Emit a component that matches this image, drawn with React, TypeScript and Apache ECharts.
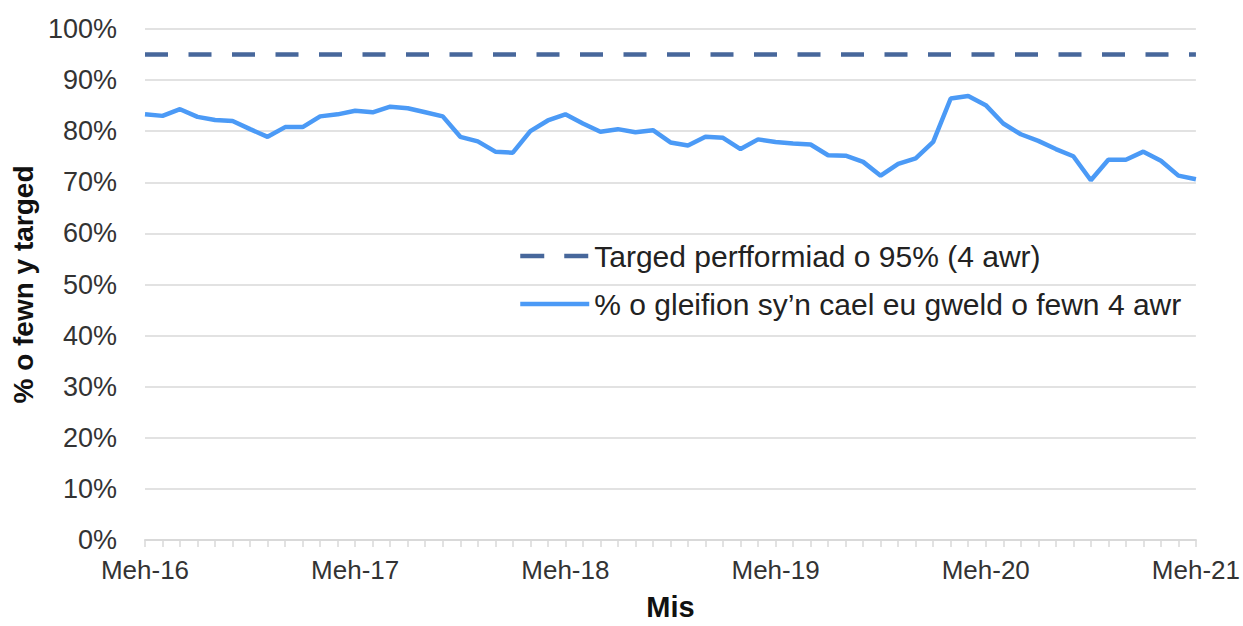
import React, { useEffect, useRef } from "react";
import * as echarts from "echarts";

const monthAbbr = ["Meh", "Gor", "Aws", "Med", "Hyd", "Tach", "Rhag", "Ion", "Chwef", "Maw", "Ebr", "Mai"];
const startYears = [16, 17, 18, 19, 20];
const categories: string[] = [];
startYears.forEach((y) => {
  monthAbbr.forEach((m, i) => {
    categories.push(`${m}-${i < 7 ? y : y + 1}`);
  });
});
categories.push("Meh-21");

const seenWithin4h = [
  83.3, 83.0, 84.3, 82.8, 82.2, 82.0, 80.4, 78.9, 80.8, 80.8, 82.9, 83.3,
  84.0, 83.7, 84.8, 84.5, 83.7, 82.9, 78.9, 78.0, 76.0, 75.8, 80.0, 82.1,
  83.3, 81.5, 79.9, 80.4, 79.8, 80.2, 77.8, 77.2, 78.9, 78.7, 76.5, 78.4,
  77.9, 77.6, 77.4, 75.3, 75.2, 74.0, 71.3, 73.6, 74.7, 77.9, 86.4, 86.9,
  85.1, 81.5, 79.4, 78.1, 76.5, 75.1, 70.4, 74.4, 74.4, 76.0, 74.2, 71.3,
  70.6,
];

const TARGET = 95;
const yTicks = [0, 10, 20, 30, 40, 50, 60, 70, 80, 90, 100];

const targetName = "Targed perfformiad o 95% (4 awr)";
const seriesName = "% o gleifion sy\u2019n cael eu gweld o fewn 4 awr";

const FONT = "Liberation Sans, Arial, sans-serif";
const DASH_COLOR = "#47679b";
const LINE_COLOR = "#4b9af6";

export default function App() {
  const ref = useRef<HTMLDivElement>(null);
  useEffect(() => {
    if (!ref.current) return;
    const chart = echarts.init(ref.current, null, { renderer: "svg" });
    chart.setOption({
      animation: false,
      textStyle: { fontFamily: FONT },
      grid: { left: 145, right: 46, top: 29, bottom: 81, containLabel: false },
      legend: {
        orient: "vertical",
        left: 513,
        top: 236,
        itemWidth: 69,
        itemHeight: 14,
        itemGap: 18,
        textStyle: { fontFamily: FONT, fontSize: 30, lineHeight: 30, color: "#222" },
        data: [
          {
            name: targetName,
            itemStyle: { opacity: 0 },
            lineStyle: { color: DASH_COLOR, width: 4.5, type: [24, 20] },
          },
          {
            name: seriesName,
            itemStyle: { opacity: 0 },
            lineStyle: { color: LINE_COLOR, width: 4.5, type: "solid" },
          },
        ],
      },
      xAxis: {
        type: "category",
        data: categories,
        boundaryGap: false,
        name: "Mis",
        nameLocation: "middle",
        nameGap: 52,
        nameTextStyle: { fontFamily: FONT, fontSize: 29, fontWeight: "bold", color: "#111" },
        axisLine: { lineStyle: { color: "#d9d9d9", width: 2 } },
        axisTick: { show: true, interval: 0, length: 7, lineStyle: { color: "#d9d9d9", width: 1.5 } },
        axisLabel: {
          interval: 11,
          margin: 17,
          fontFamily: FONT,
          fontSize: 26,
          color: "#333",
        },
        splitLine: { show: false },
      },
      yAxis: {
        type: "value",
        min: yTicks[0],
        max: yTicks[yTicks.length - 1],
        interval: 10,
        name: "% o fewn y targed",
        nameLocation: "middle",
        nameGap: 106,
        nameTextStyle: { fontFamily: FONT, fontSize: 28, fontWeight: "bold", color: "#111" },
        axisLine: { show: false },
        axisTick: { show: false },
        axisLabel: {
          margin: 28,
          fontFamily: FONT,
          fontSize: 27,
          color: "#333",
          formatter: (v: number) => `${v}%`,
        },
        splitLine: { lineStyle: { color: "#d9d9d9", width: 1.5 } },
      },
      series: [
        {
          name: targetName,
          type: "line",
          data: [],
          symbol: "none",
          lineStyle: { color: DASH_COLOR, width: 4.5, type: [24, 20] },
          itemStyle: { color: DASH_COLOR },
          markLine: {
            silent: true,
            symbol: ["none", "none"],
            label: { show: false },
            lineStyle: { color: DASH_COLOR, width: 4.5, type: [23, 20.5] },
            data: [{ yAxis: TARGET }],
          },
        },
        {
          name: seriesName,
          type: "line",
          data: seenWithin4h,
          symbol: "none",
          lineStyle: { color: LINE_COLOR, width: 4.5 },
          itemStyle: { color: LINE_COLOR },
        },
      ],
    });
    return () => chart.dispose();
  }, []);
  return <div ref={ref} style={{ width: 1243, height: 626, position: "absolute", left: 0, top: 0 }} />;
}
